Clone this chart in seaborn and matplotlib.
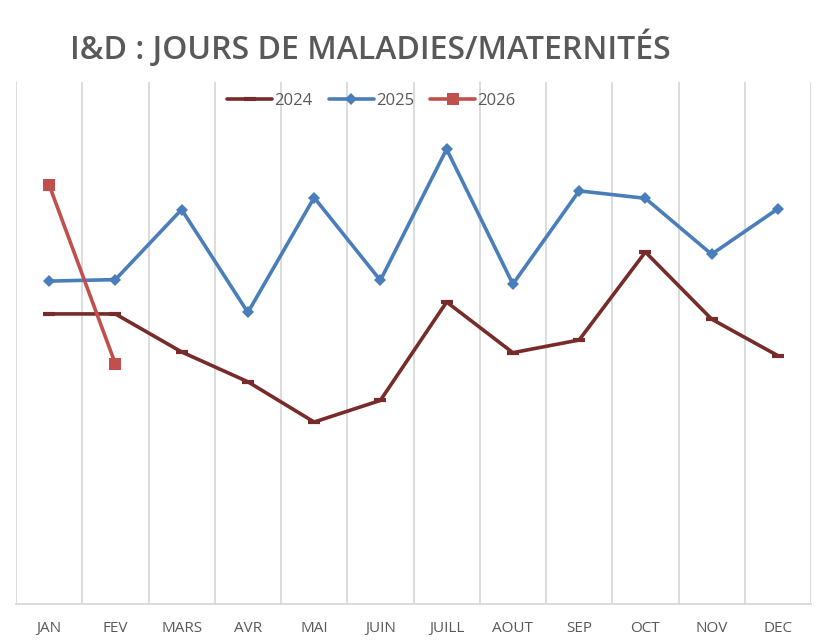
import pandas as pd
import seaborn as sns
import matplotlib.pyplot as plt
from matplotlib.ticker import FixedLocator

# valeurs (jours)
mois = ["JAN", "FEV", "MARS", "AVR", "MAI", "JUIN", "JUILL", "AOUT", "SEP", "OCT", "NOV", "DEC"]
jours_2024 = [38.9, 38.9, 33.8, 29.8, 24.4, 27.3, 40.5, 33.7, 35.4, 47.2, 38.2, 33.3]
jours_2025 = [43.3, 43.5, 52.9, 39.1, 54.5, 43.4, 61.0, 42.9, 55.4, 54.4, 46.9, 53.0]
jours_2026 = [56.2, 32.2]

sns.set_theme(style="white")
plt.rcParams['font.family'] = ['Open Sans', 'DejaVu Sans']

rows = []
for annee, vals in [("2024", jours_2024), ("2025", jours_2025), ("2026", jours_2026)]:
    for i, v in enumerate(vals):
        rows.append({"mois": i, "jours": v, "annee": annee})
df = pd.DataFrame(rows)

styles = {
    "2024": dict(color="#772C2A", marker="_", markersize=9, mew=3),
    "2025": dict(color="#4A7EBB", marker="D", markersize=6, mew=0),
    "2026": dict(color="#C0504D", marker="s", markersize=9, mew=0),
}

fig = plt.figure(figsize=(8.22, 6.41), dpi=100)
ax = fig.add_axes([16 / 822, 37 / 641, 795 / 822, 522 / 641])

for annee, st in styles.items():
    sub = df[df["annee"] == annee]
    sns.lineplot(data=sub, x="mois", y="jours", ax=ax, label=annee,
                 color=st["color"], linewidth=2.6, marker=st["marker"],
                 markersize=st["markersize"], markeredgewidth=st["mew"],
                 markeredgecolor=st["color"], markerfacecolor=st["color"])

ax.set_xlim(-0.5, 11.5)
ax.set_ylim(0, 70)
ax.set_xticks(range(12))
ax.set_xticklabels(mois, color="#595959", fontsize=11)
ax.xaxis.set_minor_locator(FixedLocator([i - 0.5 for i in range(13)]))
ax.grid(which="minor", axis="x", color="#D9D9D9", linewidth=1.3)
ax.grid(which="major", axis="both", visible=False)
ax.tick_params(axis="x", which="both", length=0, pad=12)
ax.set_yticks([])
ax.set_xlabel("")
ax.set_ylabel("")
for s in ["left", "right", "top"]:
    ax.spines[s].set_visible(False)
ax.spines["bottom"].set_color("#D9D9D9")
ax.spines["bottom"].set_linewidth(1.3)

leg = ax.legend(loc="center", bbox_to_anchor=(0.447, 0.963), ncol=3, frameon=False,
                fontsize=12, handlelength=2.7, handletextpad=0.1, columnspacing=1.0)
for t in leg.get_texts():
    t.set_color("#595959")

fig.text(370, 641 - 48, "I&D : JOURS DE MALADIES/MATERNITÉS", transform=None,
         ha="center", va="center", fontsize=23, fontweight="semibold", color="#595959")

fig.savefig("out.png", dpi=100)
